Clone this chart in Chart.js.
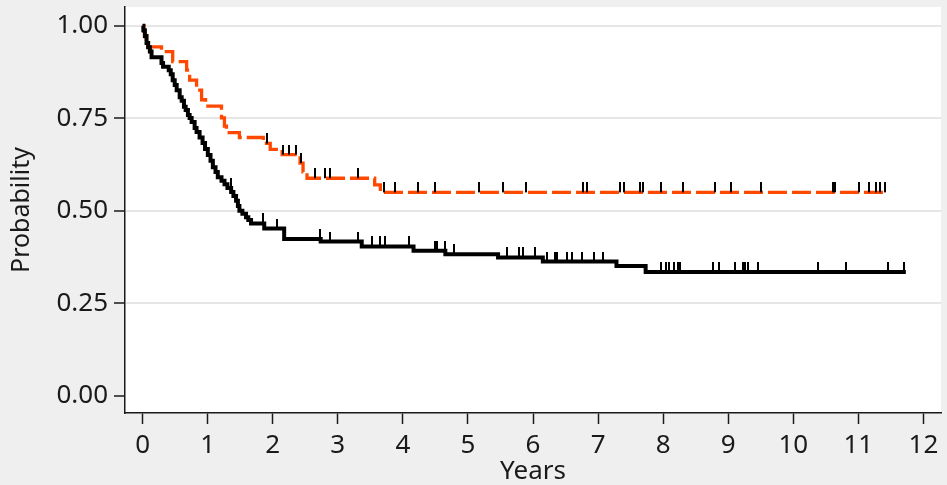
<!DOCTYPE html>
<html>
<head>
<meta charset="utf-8">
<script src="https://cdn.jsdelivr.net/npm/chart.js@4/dist/chart.umd.min.js"></script>
<style>
  html, body { margin: 0; padding: 0; background: #efefef; }
  #wrap { width: 947px; height: 485px; }
</style>
</head>
<body>
<div id="wrap"><canvas id="kmChart" width="947" height="485"></canvas></div>
<script>
/* ---------- data ---------- */
const xTicks = [0, 1, 2, 3, 4, 5, 6, 7, 8, 9, 10, 11, 12];
const yTicks = [0, 0.25, 0.5, 0.75, 1.0];

// black curve: step times (years) and survival after each step
const blackTimes = [0, 0.012, 0.035, 0.061, 0.086, 0.112, 0.138, 0.291, 0.315, 0.402,
  0.433, 0.463, 0.494, 0.524, 0.570, 0.601, 0.636, 0.662, 0.697, 0.723,
  0.754, 0.800, 0.830, 0.876, 0.922, 0.960, 1.003, 1.044, 1.080, 1.121,
  1.156, 1.213, 1.259, 1.304, 1.361, 1.396, 1.437, 1.465, 1.488, 1.534,
  1.590, 1.625, 1.667, 1.870, 2.176, 2.737, 3.368, 4.164, 4.653, 5.463,
  6.151, 7.283, 7.731, 11.73];
const blackSurv = [1.000, 0.988, 0.972, 0.953, 0.942, 0.930, 0.915, 0.899, 0.889, 0.880,
  0.869, 0.853, 0.840, 0.826, 0.807, 0.797, 0.781, 0.772, 0.759, 0.751,
  0.740, 0.724, 0.713, 0.698, 0.683, 0.667, 0.651, 0.635, 0.618, 0.605,
  0.591, 0.581, 0.572, 0.562, 0.551, 0.540, 0.527, 0.513, 0.500, 0.492,
  0.483, 0.475, 0.466, 0.452, 0.424, 0.417, 0.404, 0.392, 0.383, 0.374,
  0.363, 0.351, 0.335, 0.335];
const blackCensored = [1.355, 1.844, 2.064, 2.729, 2.879, 3.318, 3.521, 3.654, 3.725, 4.102,
  4.489, 4.520, 4.648, 4.791, 5.601, 5.784, 5.846, 6.024, 6.212, 6.339,
  6.370, 6.526, 6.595, 6.752, 6.942, 7.080, 7.961, 8.040, 8.093, 8.165,
  8.231, 8.261, 8.766, 8.865, 9.102, 9.225, 9.260, 9.309, 9.454, 10.379,
  10.804, 11.457, 11.702];

// orange (dashed) curve
const orangeTimes = [0, 0.02, 0.04, 0.06, 0.081, 0.291, 0.463, 0.677, 0.723, 0.830,
  0.907, 0.968, 1.213, 1.258, 1.289, 1.488, 1.855, 1.962, 2.145, 2.420,
  2.466, 2.527, 3.567, 3.654, 11.45];
const orangeSurv = [1.000, 0.985, 0.970, 0.955, 0.943, 0.930, 0.903, 0.880, 0.853, 0.826,
  0.800, 0.783, 0.751, 0.729, 0.711, 0.698, 0.682, 0.666, 0.652, 0.629,
  0.605, 0.588, 0.570, 0.550, 0.550];
const orangeCensored = [1.911, 2.165, 2.252, 2.355, 2.440, 2.645, 2.803, 2.879, 3.307, 3.716,
  3.884, 4.229, 4.495, 5.168, 5.544, 5.887, 6.774, 6.829, 7.333, 7.401,
  7.639, 7.696, 7.960, 8.307, 8.792, 9.046, 9.500, 10.612, 10.642, 11.009,
  11.162, 11.274, 11.336, 11.416];

/* ---------- helpers ---------- */
function toPoints(times, surv) {
    return times.map((t, i) => ({ x: t, y: surv[i] }));
}

// level of the step curve at time t
function levelAt(times, surv, t) {
    let s = surv[0];
    for (let i = 0; i < times.length; i++) {
        if (times[i] <= t) s = surv[i];
    }
    return s;
}

function censorPoints(cens, times, surv) {
    return cens.map(t => ({ x: t, y: levelAt(times, surv, t) }));
}

// small vertical tick that sits on top of the curve
const censorMark = document.createElement('canvas');
censorMark.width = 2;
censorMark.height = 20;
(function () {
    const c = censorMark.getContext('2d');
    c.fillStyle = '#000';
    c.fillRect(0, 0, 2, 10);
})();

const fundo = {
    id: 'fundo',
    beforeDraw(chart) {
        const { ctx, chartArea: a } = chart;
        ctx.save();
        ctx.fillStyle = '#efefef';
        ctx.fillRect(0, 0, chart.width, chart.height);
        ctx.fillStyle = '#ffffff';
        ctx.fillRect(a.left, a.top, a.right - a.left, a.bottom - a.top);
        ctx.restore();
    }
};

const fonte = 'Noto Sans';

/* ---------- chart ---------- */
const ctx = document.getElementById('kmChart').getContext('2d');
new Chart(ctx, {
    type: 'line',
    data: {
        datasets: [
            {
                label: 'censored black',
                data: censorPoints(blackCensored, blackTimes, blackSurv),
                showLine: false,
                pointStyle: censorMark,
                pointRadius: 5
            },
            {
                label: 'censored orange',
                data: censorPoints(orangeCensored, orangeTimes, orangeSurv),
                showLine: false,
                pointStyle: censorMark,
                pointRadius: 5
            },
            {
                label: 'black',
                data: toPoints(blackTimes, blackSurv),
                borderColor: '#000000',
                borderWidth: 4,
                stepped: 'before',
                pointRadius: 0,
                fill: false
            },
            {
                label: 'orange',
                data: toPoints(orangeTimes, orangeSurv),
                borderColor: '#ff4800',
                borderWidth: 3.3,
                borderDash: [19, 5],
                borderCapStyle: 'butt',
                stepped: 'before',
                pointRadius: 0,
                fill: false
            }
        ]
    },
    options: {
        responsive: false,
        animation: false,
        devicePixelRatio: 1,
        layout: { padding: { left: 0, top: 7, right: 2, bottom: 0 } },
        plugins: {
            legend: { display: false },
            tooltip: { enabled: false }
        },
        scales: {
            x: {
                type: 'linear',
                position: 'bottom',
                min: -0.27,
                max: 12.27,
                afterBuildTicks: s => { s.ticks = xTicks.map(v => ({ value: v })); },
                afterFit: s => { s.height = 72; s.paddingLeft = 0; s.paddingRight = 0; },
                ticks: {
                    autoSkip: false,
                    maxRotation: 0,
                    padding: 6,
                    color: '#1a1a1a',
                    font: { family: fonte, size: 26 }
                },
                grid: {
                    drawOnChartArea: false,
                    color: 'transparent',
                    tickColor: '#1a1a1a',
                    tickLength: 11,
                    tickWidth: 1.5
                },
                border: { display: true, color: '#1a1a1a', width: 1.5 },
                title: {
                    display: true,
                    text: 'Years',
                    color: '#1a1a1a',
                    font: { family: fonte, size: 26 },
                    padding: { top: 0, bottom: -2 }
                }
            },
            y: {
                type: 'linear',
                min: -0.046,
                max: 1.0505,
                afterBuildTicks: s => { s.ticks = yTicks.map(v => ({ value: v })); },
                afterFit: s => { s.width = 125; s.paddingTop = 0; s.paddingBottom = 0; },
                ticks: {
                    padding: 6,
                    color: '#1a1a1a',
                    font: { family: fonte, size: 26 },
                    callback: v => Number(v).toFixed(2)
                },
                grid: {
                    color: c => (c.tick && c.tick.value === 0) ? 'transparent' : '#e6e6e6',
                    lineWidth: 2,
                    tickColor: '#1a1a1a',
                    tickLength: 11,
                    tickWidth: 1.5
                },
                border: { display: true, color: '#1a1a1a', width: 1.5 },
                title: {
                    display: true,
                    text: 'Probability',
                    color: '#1a1a1a',
                    font: { family: fonte, size: 25 },
                    padding: { top: 7, bottom: 0 }
                }
            }
        }
    },
    plugins: [fundo]
});
</script>
</body>
</html>
